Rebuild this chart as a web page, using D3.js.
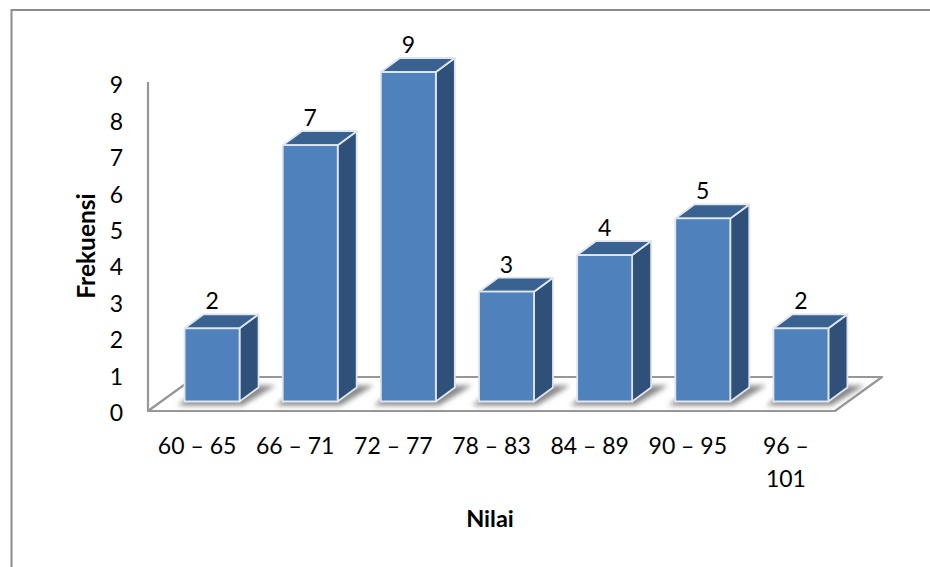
<!DOCTYPE html>
<html>
<head>
<meta charset="utf-8">
<script src="https://cdn.jsdelivr.net/npm/d3@7/dist/d3.min.js"></script>
<style>
  html, body { margin: 0; padding: 0; background: #fff; }
  svg { display: block; font-family: Lato, "Open Sans", sans-serif; }
</style>
</head>
<body>
<svg id="chart" width="930" height="567"></svg>
<script>
// Frequency distribution of scores
const categories = ["60 – 65", "66 – 71", "72 – 77", "78 – 83", "84 – 89", "90 – 95", "96 – 101"];
const frequencies = [2, 7, 9, 3, 4, 5, 2];
const yTicks = [0, 1, 2, 3, 4, 5, 6, 7, 8, 9];
const xTitle = "Nilai";
const yTitle = "Frekuensi";

const svg = d3.select("#chart");

const defs = svg.append("defs");
defs.append("filter").attr("id", "soft").attr("x", "-30%").attr("y", "-60%")
  .attr("width", "160%").attr("height", "220%")
  .append("feGaussianBlur").attr("stdDeviation", 2.4);

// Outer chart frame, open along the right and bottom edges of the page
svg.append("path")
  .attr("d", "M11.5,567V10H930")
  .attr("fill", "none").attr("stroke", "#8c8c8c").attr("stroke-width", 2);

// Oblique projection used by the pseudo-3D floor and columns
const depth = { dx: 19, dy: -14 };
const floorDepth = { dx: 47, dy: -34 };
const inset = 15;

const x = d3.scaleBand().domain(categories).range([148, 835])
  .paddingInner(0.44).paddingOuter(0.22);
const yAxisScale = d3.scaleLinear().domain([0, 9]).range([411, 83.5]);
const y = d3.scaleLinear().domain([0, 9]).range([401.5, 72]);

// Floor plane
const floorY = yAxisScale(0);
const floorLeft = x.range()[0], floorRight = x.range()[1];
const floor = svg.append("g");
floor.append("path")
  .attr("d", `M${floorLeft},${floorY}L${floorRight},${floorY}` +
             `L${floorRight + floorDepth.dx},${floorY + floorDepth.dy}` +
             `L${floorLeft + floorDepth.dx},${floorY + floorDepth.dy}Z`)
  .attr("fill", "#fff").attr("stroke", "#979797").attr("stroke-width", 2.2)
  .attr("stroke-linejoin", "round");

// Soft shadows cast on the floor
svg.append("g").attr("filter", "url(#soft)").selectAll("path")
  .data(categories).join("path")
  .attr("fill", "#8a8a8a")
  .attr("d", c => {
    const x0 = x(c) + inset, x1 = x0 + x.bandwidth(), b = y(0);
    return `M${x0 - 7},${b + 4}L${x1 + 3},${b + 4}L${x1 + 36},${b - 16}L${x1 + 6},${b - 16}L${x0 + 6},${b - 6}Z`;
  });

// Value axis
const yAxis = d3.axisLeft(yAxisScale).tickValues(yTicks).tickSize(0).tickPadding(25);
const yG = svg.append("g").attr("transform", "translate(148,0)").call(yAxis);
yG.select(".domain").remove();
yG.append("line").attr("y1", 82).attr("y2", 411).attr("stroke", "#979797").attr("stroke-width", 2.2);
yG.selectAll(".tick text").attr("font-size", 23).attr("fill", "#000")
  .attr("font-family", "Lato, sans-serif").attr("dy", "0.41em");

// Category axis, with wrapped labels broken at the dash
const xAxis = d3.axisBottom(x).tickSize(0).tickPadding(0);
const xG = svg.append("g").attr("transform", "translate(0,411)").call(xAxis);
xG.select(".domain").remove();
xG.selectAll(".tick text")
  .attr("font-size", 23).attr("fill", "#000").attr("font-family", "Lato, sans-serif")
  .attr("dy", null)
  .each(function (d) {
    const t = d3.select(this).text("");
    const parts = d === "96 – 101" ? ["96 –", "101"] : [d];
    parts.forEach((p, i) => t.append("tspan")
      .attr("x", 0).attr("y", 43 + i * 33).text(p));
  });

// Columns: side, top and front faces
const columns = svg.append("g").selectAll("g")
  .data(categories.map((c, i) => ({ c, v: frequencies[i] })))
  .join("g");
const edge = { stroke: "#dfe5ee", "stroke-width": 1.8, "stroke-linejoin": "round" };
const styled = (sel) => { Object.entries(edge).forEach(([k, v]) => sel.attr(k, v)); return sel; };

styled(columns.append("path").attr("fill", "#2f5079")).attr("d", d => {
  const x1 = x(d.c) + inset + x.bandwidth(), t = y(d.v), b = y(0);
  return `M${x1},${t}L${x1 + depth.dx},${t + depth.dy}L${x1 + depth.dx},${b + depth.dy}L${x1},${b}Z`;
});
styled(columns.append("path").attr("fill", "#3a6291")).attr("d", d => {
  const x0 = x(d.c) + inset, x1 = x0 + x.bandwidth(), t = y(d.v);
  return `M${x0},${t}L${x0 + depth.dx},${t + depth.dy}L${x1 + depth.dx},${t + depth.dy}L${x1},${t}Z`;
});
styled(columns.append("rect").attr("fill", "#4f81bd"))
  .attr("x", d => x(d.c) + inset)
  .attr("y", d => y(d.v))
  .attr("width", x.bandwidth())
  .attr("height", d => y(0) - y(d.v));

// Value labels above each column
columns.append("text")
  .attr("x", d => x(d.c) + inset + x.bandwidth() / 2)
  .attr("y", d => y(d.v) - 19)
  .attr("text-anchor", "middle")
  .attr("font-size", 23).attr("fill", "#000")
  .text(d => d.v);

// Axis titles
svg.append("text").attr("x", 490).attr("y", 527).attr("text-anchor", "middle")
  .attr("font-size", 23.5).attr("font-weight", 700).attr("fill", "#000").text(xTitle);
svg.append("text").attr("transform", "translate(95,246) rotate(-90)").attr("text-anchor", "middle")
  .attr("font-size", 24.5).attr("font-weight", 700).attr("fill", "#000").text(yTitle);
</script>
</body>
</html>
